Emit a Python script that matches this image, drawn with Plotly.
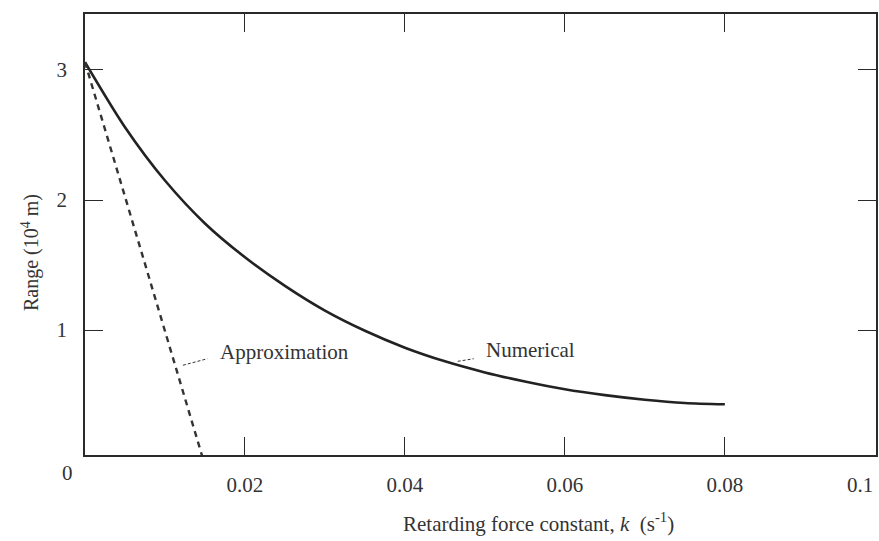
import plotly.graph_objects as go

# Numerical solution: range (10^4 m) vs retarding force constant k (s^-1)
k_num = [0.0, 0.005, 0.01, 0.015, 0.02, 0.025, 0.03, 0.035, 0.04, 0.045,
         0.05, 0.055, 0.06, 0.065, 0.07, 0.075, 0.08]
range_num = [3.06, 2.56, 2.15, 1.82, 1.56, 1.34, 1.15, 0.995, 0.865, 0.76,
             0.675, 0.605, 0.545, 0.50, 0.465, 0.44, 0.43]

# Linear approximation
k_approx = [0.0, 0.0148]
range_approx = [3.06, 0.0]

x_ticks = [0.02, 0.04, 0.06, 0.08]
x_ticktext = ["0.02", "0.04", "0.06", "0.08"]
y_ticks = [1, 2, 3]
y_ticktext = ["1", "2", "3"]

SERIF = "Liberation Serif, Times New Roman, serif"
TXT = "#333333"
LINE = "#2a2a2a"
FS = 21

fig = go.Figure()
fig.add_trace(go.Scatter(x=k_num, y=range_num, mode="lines",
                         line=dict(color="#222222", width=2.6, shape="spline", smoothing=0.8),
                         showlegend=False, hoverinfo="skip"))
fig.add_trace(go.Scatter(x=k_approx, y=range_approx, mode="lines",
                         line=dict(color="#333333", width=2.4, dash="6px,5px"),
                         showlegend=False, hoverinfo="skip"))

fig.update_layout(
    width=879, height=541,
    margin=dict(l=85, r=3, t=14, b=86),
    paper_bgcolor="white", plot_bgcolor="white",
    font=dict(family=SERIF, size=FS, color=TXT),
    xaxis=dict(range=[0, 0.0989], tickvals=x_ticks, ticktext=x_ticktext,
               ticks="inside", ticklen=18, tickwidth=1.2, tickcolor=LINE,
               showline=True, linecolor=LINE, linewidth=1.6, mirror="ticks",
               showgrid=False, zeroline=False, ticklabelstandoff=10, automargin=False,
               tickfont=dict(family=SERIF, size=FS, color=TXT)),
    yaxis=dict(range=[0.04, 3.43], tickvals=y_ticks, ticktext=y_ticktext,
               ticks="inside", ticklen=18, tickwidth=1.2, tickcolor=LINE,
               showline=True, linecolor=LINE, linewidth=1.6, mirror="ticks",
               showgrid=False, zeroline=False, ticklabelstandoff=12, automargin=False,
               tickfont=dict(family=SERIF, size=FS, color=TXT)),
)

# corner zero label and last x label
fig.add_annotation(xref="paper", yref="paper", x=-0.0215, y=-0.041, text="0", showarrow=False,
                   xanchor="center", yanchor="middle", font=dict(family=SERIF, size=FS, color=TXT))
fig.add_annotation(xref="paper", yref="paper", x=0.98, y=-0.068, text="0.1", showarrow=False,
                   xanchor="center", yanchor="middle", font=dict(family=SERIF, size=FS, color=TXT))

# axis titles
fig.add_annotation(xref="paper", yref="paper", x=0.573, y=-0.152,
                   text="Retarding force constant, <i>k</i>  (s<sup>-1</sup>)",
                   showarrow=False, xanchor="center", yanchor="middle",
                   font=dict(family=SERIF, size=FS, color=TXT))
fig.add_annotation(xref="paper", yref="paper", x=-0.0695, y=0.458, text="Range (10<sup>4</sup> m)",
                   textangle=-90, showarrow=False, xanchor="center", yanchor="middle",
                   font=dict(family=SERIF, size=20, color=TXT))

# curve labels
fig.add_annotation(x=0.0166, y=0.83, text="Approximation", showarrow=False, xanchor="left", yanchor="middle",
                   font=dict(family=SERIF, size=FS, color=TXT))
fig.add_annotation(x=0.0499, y=0.85, text="Numerical", showarrow=False, xanchor="left", yanchor="middle",
                   font=dict(family=SERIF, size=FS, color=TXT))
fig.add_shape(type="line", x0=0.01225, y0=0.73, x1=0.0153, y1=0.78, line=dict(color=TXT, width=1, dash="3px,2px"))
fig.add_shape(type="line", x0=0.0466, y0=0.76, x1=0.0486, y1=0.78, line=dict(color=TXT, width=1, dash="3px,2px"))

fig.write_html("out.html", config={"displayModeBar": False},
               post_script="document.body.style.margin='0';document.body.style.overflow='hidden';")
